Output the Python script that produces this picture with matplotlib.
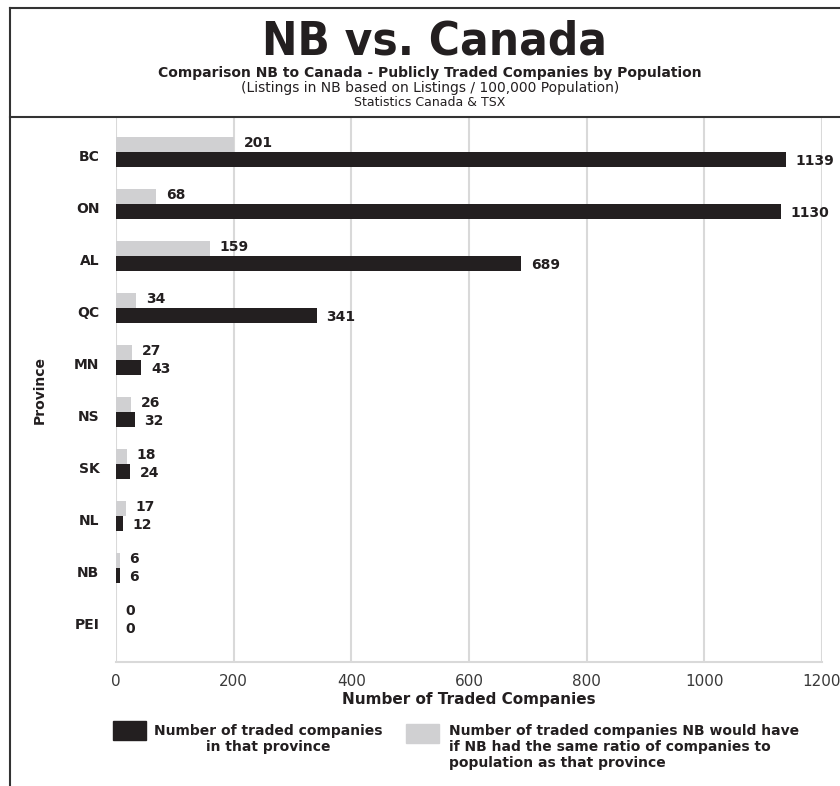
import matplotlib
matplotlib.use("Agg")
import matplotlib.pyplot as plt
from matplotlib.lines import Line2D
from matplotlib.patches import Rectangle
from matplotlib import font_manager as fm

provinces = ["BC", "ON", "AL", "QC", "MN", "NS", "SK", "NL", "NB", "PEI"]
traded = [1139, 1130, 689, 341, 43, 32, 24, 12, 6, 0]
nb_equiv = [201, 68, 159, 34, 27, 26, 18, 17, 6, 0]
xticks = [0, 200, 400, 600, 800, 1000, 1200]

BLACK = "#231f20"
GRAY = "#d0d0d2"
GRID = "#d9d9d9"
TXT = "#231f20"
FONT = "DejaVu Sans"
plt.rcParams["font.family"] = FONT

# pick a condensed bold face for the big title if one is installed
cond = None
for f in fm.fontManager.ttflist:
    if f.weight in ("bold", 700) and ("Condensed" in f.name or "Narrow" in f.name
                                      or f.stretch in ("condensed", "semi-condensed", 500)):
        if "Condensed" in f.fname or "Narrow" in f.fname or "Condensed" in f.name:
            cond = f
            break

W, H = 840, 786
fig = plt.figure(figsize=(W / 100, H / 100), dpi=100)
ax = fig.add_axes([116 / W, 1 - 662 / H, (822 - 116) / W, (662 - 118) / H])

pos = list(range(len(provinces)))
h = 0.29
ax.barh([p - 0.15 for p in pos], nb_equiv, height=h, color=GRAY, zorder=3)
ax.barh([p + 0.15 for p in pos], traded, height=h, color=BLACK, zorder=3)

for p, v in zip(pos, nb_equiv):
    ax.annotate(str(v), (v, p - 0.17), xytext=(7, 0), textcoords="offset points",
                ha="left", va="center", fontsize=10, fontweight="bold", color=TXT)
for p, v in zip(pos, traded):
    ax.annotate(str(v), (v, p + 0.17), xytext=(7, 0), textcoords="offset points",
                ha="left", va="center", fontsize=10, fontweight="bold", color=TXT)

ax.set_xlim(0, 1200)
ax.set_ylim(9.81, -0.654)
ax.set_xticks(xticks)
ax.set_xticklabels([str(t) for t in xticks], fontsize=11, color="#3a3a3a")
ax.set_yticks([p + 0.06 for p in pos])
ax.set_yticklabels(provinces, fontsize=10, fontweight="bold", color=TXT)
ax.tick_params(axis="both", length=0)
ax.tick_params(axis="y", pad=12)
ax.tick_params(axis="x", pad=9)
ax.grid(axis="x", color=GRID, linewidth=1.5, zorder=0)
for s in ["top", "right", "left"]:
    ax.spines[s].set_visible(False)
ax.spines["bottom"].set_color(GRID)
ax.spines["bottom"].set_linewidth(1.5)
ax.set_xlabel("Number of Traded Companies", fontsize=11, fontweight="bold", color=TXT, labelpad=2)
fig.text(40 / W, 1 - 390 / H, "Province", rotation=90, ha="center", va="center",
         fontsize=10, fontweight="bold", color=TXT)

# frame lines
lc = "#333333"
fig.add_artist(Line2D([10 / W, 10 / W], [0, 1 - 8 / H], color=lc, lw=1.5, transform=fig.transFigure))
fig.add_artist(Line2D([10 / W, 1], [1 - 8 / H, 1 - 8 / H], color=lc, lw=1.5, transform=fig.transFigure))
fig.add_artist(Line2D([10 / W, 1], [1 - 117 / H, 1 - 117 / H], color=lc, lw=1.5, transform=fig.transFigure))

# titles
if cond is not None:
    fig.text(434 / W, 1 - 42 / H, "NB vs. Canada", ha="center", va="center",
             color=TXT, fontproperties=fm.FontProperties(fname=cond.fname, size=34))
else:
    fig.text(434 / W, 1 - 40 / H, "NB vs. Canada", ha="center", va="center",
             fontsize=30, fontweight="bold", color=TXT)
fig.text(430 / W, 1 - 73 / H, "Comparison NB to Canada - Publicly Traded Companies by Population",
         ha="center", va="center", fontsize=10, fontweight="bold", color=TXT)
fig.text(430 / W, 1 - 88 / H, "(Listings in NB based on Listings / 100,000 Population)",
         ha="center", va="center", fontsize=10, color=TXT)
fig.text(430 / W, 1 - 103 / H, "Statistics Canada & TSX",
         ha="center", va="center", fontsize=9, color=TXT)

# legend
fig.add_artist(Rectangle((113 / W, 1 - 740 / H), 33 / W, 19 / H, color=BLACK, transform=fig.transFigure))
fig.text(268 / W, 1 - 739 / H, "Number of traded companies\nin that province", ha="center", va="center",
         fontsize=10, fontweight="bold", color=TXT, linespacing=1.15)
fig.add_artist(Rectangle((406 / W, 1 - 743 / H), 33 / W, 19 / H, color=GRAY, transform=fig.transFigure))
fig.text(449 / W, 1 - 747 / H,
         "Number of traded companies NB would have\nif NB had the same ratio of companies to\npopulation as that province",
         ha="left", va="center", fontsize=10, fontweight="bold", color=TXT, linespacing=1.15)

fig.savefig("out.png", dpi=100)
